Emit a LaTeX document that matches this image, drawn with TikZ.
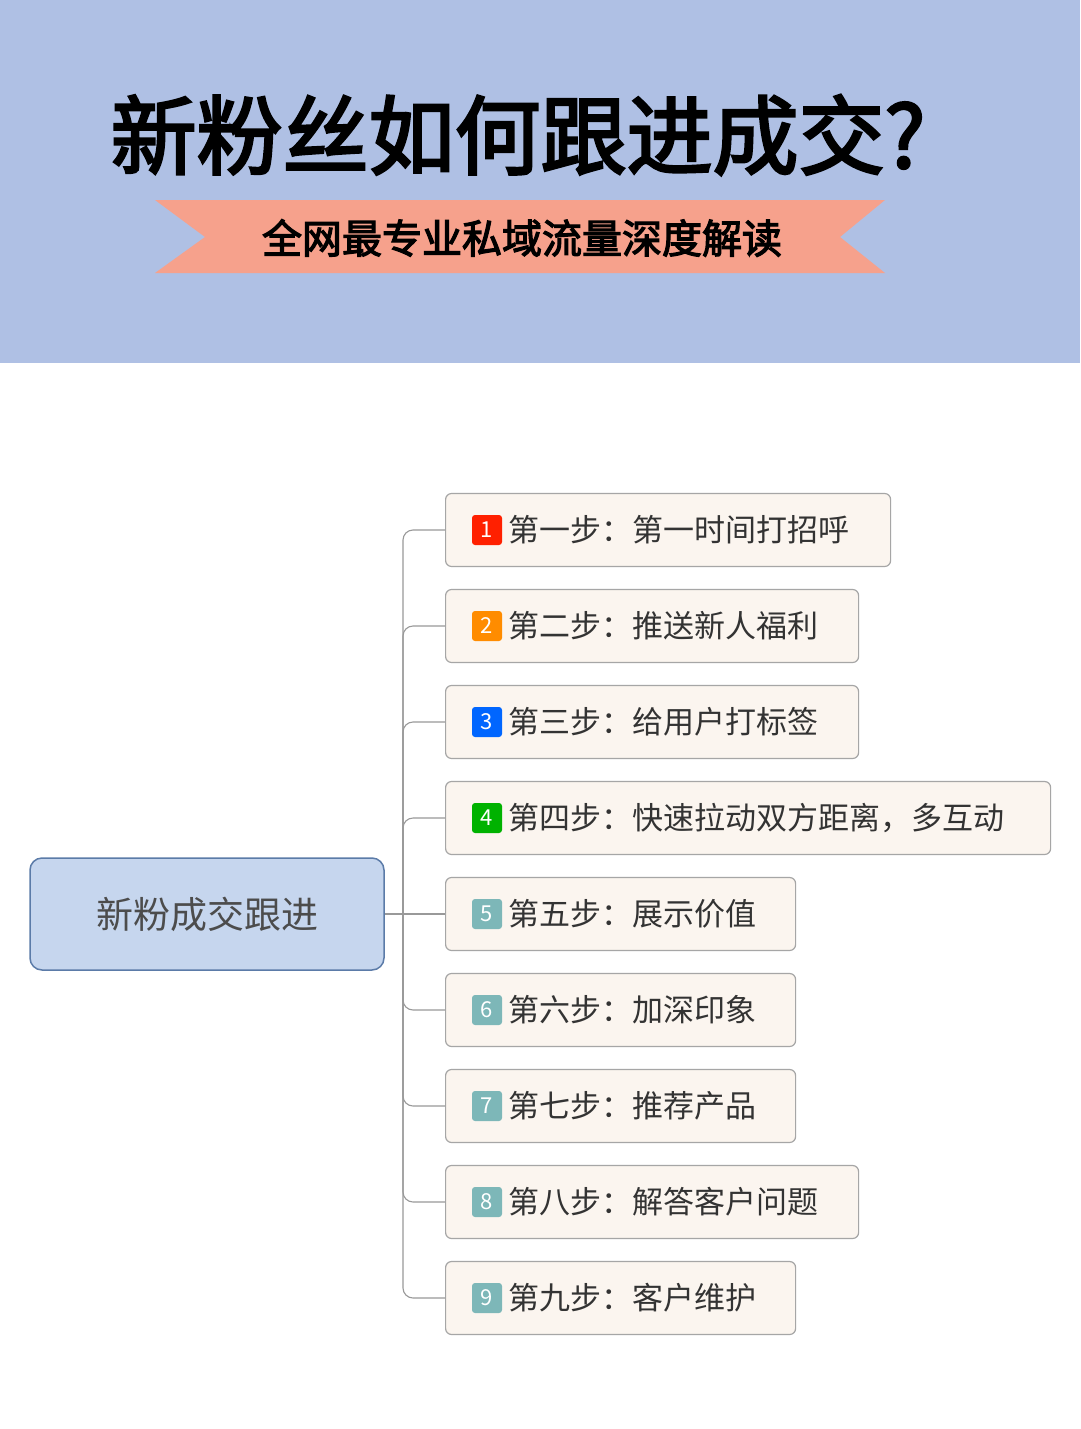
\documentclass[tikz,border=0pt]{standalone}
\usepackage{fontspec}
\newfontfamily\cjk{Noto Sans CJK SC}
\newfontfamily\cjkb{Noto Sans CJK SC}[FakeBold=3]
\begin{document}
\begin{tikzpicture}[x=1pt,y=-1pt,
  step/.style={draw=gray!70,fill=stepfill,rounded corners=6pt,line width=1.2pt,minimum height=73pt,anchor=west,text width=#1,inner sep=0pt},
  badge/.style={fill=#1,rounded corners=3pt,minimum width=30pt,minimum height=30pt,inner sep=0pt,text=white,font=\cjk\fontsize{22}{22}\selectfont},
  lbl/.style={anchor=west,font=\cjk\fontsize{31}{31}\selectfont,text=black!80},
  conn/.style={draw=gray!80,line width=1.1pt,rounded corners=10pt}]
\definecolor{band}{HTML}{AFC0E4}
\definecolor{rib}{HTML}{F6A18C}
\definecolor{stepfill}{HTML}{FBF5EF}
\definecolor{rootfill}{HTML}{C6D6EE}
\definecolor{rootdraw}{HTML}{5B7BA8}
\definecolor{teal}{HTML}{7DB7B8}
\useasboundingbox (0,0) rectangle (1080,1429);
\fill[white] (0,0) rectangle (1080,1429);
\fill[band] (0,0) rectangle (1080,363);
\node[font=\cjkb\fontsize{86}{86}\selectfont] (title) at (518,135) {新粉丝如何跟进成交?};
\fill[rib] (155,200) -- (885,200) -- (840,237) -- (885,273) -- (155,273) -- (205,237) -- cycle;
\node[font=\cjkb\fontsize{40}{40}\selectfont] (sub) at (522,238) {全网最专业私域流量深度解读};
\node[draw=rootdraw,fill=rootfill,rounded corners=12pt,line width=1.5pt,minimum width=354pt,minimum height=112pt,font=\cjk\fontsize{37}{37}\selectfont,text=black!70] (root) at (207,914) {新粉成交跟进};
\foreach \i/\y/\r/\c/\t in {1/530/890/red!75!orange/第一时间打招呼,2/626/858/orange!90!yellow/推送新人福利,3/722/858/blue!60!cyan/给用户打标签,4/818/1050/green!70!black/快速拉动双方距离，多互动,5/914/795/teal/展示价值,6/1010/795/teal/加深印象,7/1106/795/teal/推荐产品,8/1202/858/teal/解答客户问题,9/1298/795/teal/客户维护}{
  \node[step=\r pt-445pt] (s\i) at (445,\y) {};
  \node[badge=\c] (b\i) at (487,\y) {\i};
}
\node[lbl] at (505,530) {第一步：第一时间打招呼};
\node[lbl] at (505,626) {第二步：推送新人福利};
\node[lbl] at (505,722) {第三步：给用户打标签};
\node[lbl] at (505,818) {第四步：快速拉动双方距离，多互动};
\node[lbl] at (505,914) {第五步：展示价值};
\node[lbl] at (505,1010) {第六步：加深印象};
\node[lbl] at (505,1106) {第七步：推荐产品};
\node[lbl] at (505,1202) {第八步：解答客户问题};
\node[lbl] at (505,1298) {第九步：客户维护};
\coordinate (tr) at (403,914);
\draw[conn] (root.east) -- (s5.west);
\foreach \i in {1,2,3,4,6,7,8,9}{
  \draw[conn] (tr) -- (tr |- s\i.west) -- (s\i.west);
}
\end{tikzpicture}
\end{document}
